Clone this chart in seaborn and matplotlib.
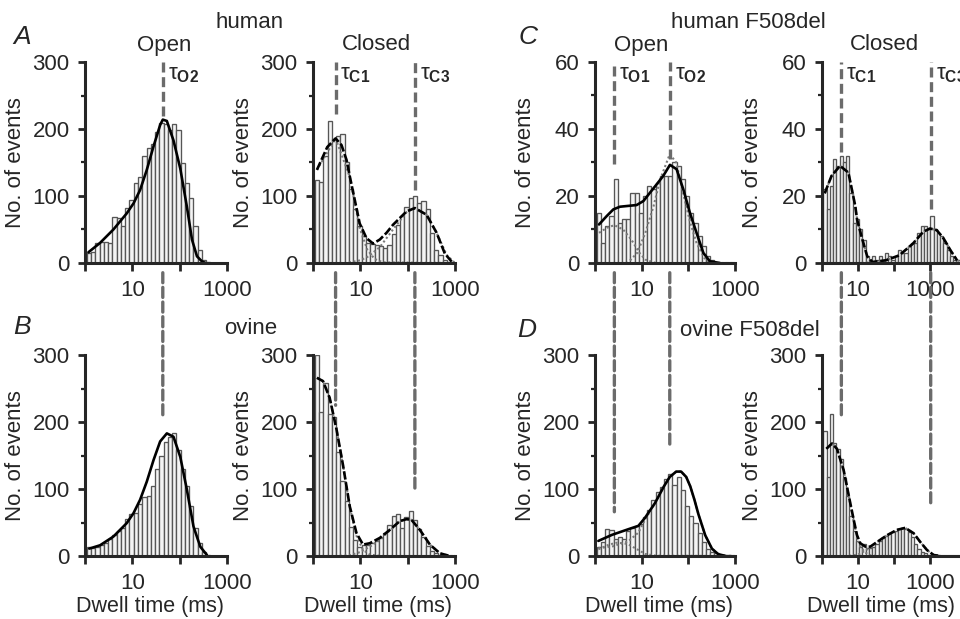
import numpy as np
import matplotlib
matplotlib.use("Agg")
import matplotlib.pyplot as plt
from matplotlib.patches import ConnectionPatch
from matplotlib.ticker import NullLocator, FixedLocator
import seaborn as sns

# histogram bins: log10(ms) of the first bin edge and log10 width of a bin
bin_start = 0.04
bin_step = 0.09

# ---- histogram counts (events per bin) ----
human_open_counts = [15, 17, 30, 32, 31, 30, 69, 67, 55, 82, 94, 120, 129, 159, 171, 178, 196, 209, 208,
                     198, 208, 198, 149, 119, 97, 55, 20, 5, 2]
human_closed_counts = [124, 121, 160, 212, 185, 190, 193, 150, 110, 80, 55, 40, 30, 28, 27, 26, 22, 27, 44,
                       57, 70, 83, 97, 100, 89, 93, 80, 45, 20, 12, 5, 2]
ovine_open_counts = [14, 12, 14, 16, 20, 25, 32, 38, 42, 55, 63, 64, 78, 88, 90, 105, 130, 150, 170, 178,
                     183, 158, 130, 105, 75, 42, 20, 6, 2]
ovine_closed_counts = [300, 215, 258, 212, 208, 155, 112, 82, 44, 24, 14, 17, 17, 19, 22, 27, 34, 47, 60, 62,
                       42, 58, 67, 54, 40, 28, 15, 7, 4, 2]
hf508_open_counts = [15, 6, 11, 14, 25, 12, 13, 13, 21, 21, 15, 20, 23, 22, 24, 26, 26, 26, 30, 29, 25, 20,
                     15, 12, 8, 5, 2, 1]
hf508_closed_counts = [22, 16, 23, 31, 29, 32, 30, 32, 21, 12, 13, 10, 7, 2, 1, 2, 1, 2, 1, 3, 2, 1, 2, 4, 3,
                       3, 5, 6, 6, 9, 11, 11, 10, 14, 10, 9, 8, 6, 4, 2, 1, 1, 1]
of508_open_counts = [14, 21, 41, 39, 26, 28, 25, 38, 42, 45, 48, 58, 68, 84, 95, 103, 115, 122, 106, 118, 98,
                     74, 60, 49, 34, 21, 11, 6, 4, 2, 1, 1]
of508_closed_counts = [186, 118, 212, 168, 160, 145, 116, 89, 60, 38, 22, 14, 18, 12, 12, 14, 18, 22, 27, 30,
                       33, 36, 38, 40, 42, 41, 36, 28, 18, 11, 6, 4, 2, 1, 1, 1]

# ---- fitted curves (ms, events) ----
human_open_fit_t = [1.18, 2.08, 3.98, 7.6, 10.6, 14.6, 20.2, 28, 38.7, 44, 53.6, 74, 103, 142, 182, 232, 295, 350]
human_open_fit_y = [16, 30, 50, 74, 89, 109, 139, 174, 206, 214, 212, 183, 141, 84, 35, 10, 2.5, 0]
human_closed_fit_t = [1.21, 2.0, 3.0, 4.0, 5.1, 6.0, 9.7, 13.5, 18.6, 25.8, 35.7, 49, 94.6, 142, 251, 409, 610, 850]
human_closed_fit_y = [139, 173, 186, 176, 154, 129, 59, 37, 29, 35, 45, 57, 77, 82, 72, 45, 14, 2]
ovine_open_fit_t = [1.23, 2.08, 3.98, 7.6, 10.6, 14.6, 20.2, 28, 38.7, 53.6, 74, 103, 142, 196, 272, 376]
ovine_open_fit_y = [11, 16, 29, 49, 64, 84, 111, 143, 171, 183, 178, 148, 99, 44, 14, 1.5]
ovine_closed_fit_t = [1.21, 1.63, 2.25, 3.12, 4.32, 5.98, 8.3, 11.4, 15.8, 25.8, 41.9, 68, 94.6, 120, 181, 295, 480, 780]
ovine_closed_fit_y = [266, 261, 236, 190, 135, 74, 34, 17, 19, 27, 39, 52, 55, 54, 39, 17, 4, 0]
hf508_open_fit_t = [1.22, 1.78, 2.47, 3.43, 4.77, 7.8, 10.9, 15.1, 21, 29, 40.4, 56, 78, 108, 150, 210, 290, 475]
hf508_open_fit_y = [11.5, 14, 16, 16.8, 17, 17.3, 18.5, 21, 23.5, 26, 29.3, 28, 22, 15, 9, 3, 0.5, 0]
hf508_closed_fit_t = [1.19, 1.84, 3.16, 5.4, 8.4, 9.4, 13, 18, 25, 59, 141, 336, 647, 1000, 1540, 2390, 3700, 5650]
hf508_closed_fit_y = [20.8, 26, 29, 27, 17, 13, 7.3, 2, 0.3, 0.8, 2.3, 5.8, 9.3, 10.3, 9.8, 7.3, 3.8, 0.8]
of508_open_fit_t = [1.18, 2.3, 5.2, 8.5, 11.8, 19.3, 30, 40, 55, 70, 90, 110, 135, 165, 230, 320, 440, 600]
of508_open_fit_y = [22.5, 31.5, 40, 45, 57, 79, 104, 118, 126, 126, 118, 104, 84, 62, 31, 11, 2.5, 0.5]
of508_closed_fit_t = [1.32, 1.9, 2.6, 4.0, 6.1, 7.6, 9.4, 11.6, 16, 22, 34, 64, 121, 205, 350, 536, 822, 1260, 1930]
of508_closed_fit_y = [160, 168, 160, 128, 79, 54, 31, 19, 14, 14, 21, 31, 39, 42, 34, 21, 9, 1.5, 0]

# ---- single components of the fits (dotted) ----
human_closed_c1_t = [1.21, 3.0, 6.0, 9.7, 14, 20, 30, 1000]
human_closed_c1_y = [139, 186, 128, 52, 20, 6, 1, 0]
human_closed_c2_t = [1.21, 5, 10, 15, 26, 49, 95, 142, 250, 410, 665, 1000]
human_closed_c2_y = [0, 0, 4, 10, 24, 50, 76, 82, 72, 45, 12, 0]
ovine_closed_c1_t = [1.21, 1.63, 2.25, 3.12, 4.32, 5.98, 8.3, 11.4, 16, 30, 1000]
ovine_closed_c1_y = [266, 261, 236, 190, 135, 73, 30, 9, 2, 0, 0]
ovine_closed_c2_t = [1.21, 3, 6, 10, 16, 26, 42, 68, 95, 120, 181, 295, 480, 780, 1000]
ovine_closed_c2_y = [0, 0, 1, 6, 14, 25, 38, 52, 55, 54, 39, 17, 4, 0, 0]
hf508_open_c1_t = [1.22, 1.8, 2.6, 4, 6, 9, 12, 20, 1000]
hf508_open_c1_y = [9, 10.5, 11.3, 10, 7, 3, 1, 0, 0]
hf508_open_c2_t = [1.22, 5, 8, 12, 18, 25, 40, 55, 80, 110, 150, 220, 300, 1000]
hf508_open_c2_y = [0, 0, 3, 9, 17, 25, 32.5, 30, 20, 12, 6, 1.5, 0, 0]
hf508_closed_c1_t = [1.19, 1.84, 3.16, 5.4, 8.4, 9.4, 13, 18, 25, 60, 10000]
hf508_closed_c1_y = [20.8, 26, 29, 27, 17, 13, 7.3, 2, 0.3, 0, 0]
hf508_closed_c2_t = [1.19, 10, 25, 59, 141, 336, 647, 1000, 1540, 2390, 3700, 5650, 10000]
hf508_closed_c2_y = [0, 0, 0.2, 0.7, 2.3, 5.8, 9.3, 10.3, 9.8, 7.3, 3.8, 0.8, 0]
of508_open_c1_t = [1.18, 2, 3, 5, 8, 12, 20, 1000]
of508_open_c1_y = [10, 17, 20, 18, 10, 3, 0.5, 0]
of508_open_c2_t = [1.18, 2.3, 5.2, 8.5, 11.8, 19.3, 30, 40, 55, 70, 90, 110, 135, 165, 230, 320, 440, 600, 1000]
of508_open_c2_y = [12, 14, 22, 35, 54, 79, 104, 118, 126, 126, 118, 104, 84, 62, 31, 11, 2.5, 0.5, 0]
of508_closed_c1_t = [1.32, 1.9, 2.6, 4.0, 6.1, 7.6, 9.4, 11.6, 16, 22, 40, 10000]
of508_closed_c1_y = [160, 168, 160, 128, 78, 52, 28, 14, 5, 1, 0, 0]
of508_closed_c2_t = [1.32, 5, 10, 16, 22, 34, 64, 121, 205, 350, 536, 822, 1260, 1930, 10000]
of508_closed_c2_y = [0, 0, 2, 8, 13, 21, 31, 39, 42, 34, 21, 9, 1.5, 0, 0]

# ---- time constants marked by the dashed lines (ms) ----
tau_human_open = [44]
tau_human_open_names = ["O2"]
tau_human_closed = [3.0, 142]
tau_human_closed_names = ["C1", "C3"]
tau_hf508_open = [2.6, 40]
tau_hf508_open_names = ["O1", "O2"]
tau_hf508_closed = [3.45, 1045]
tau_hf508_closed_names = ["C1", "C3"]

sns.set_style("ticks")
plt.rcParams["font.family"] = ["Liberation Sans", "DejaVu Sans"]
plt.rcParams["mathtext.fontset"] = "custom"
plt.rcParams["mathtext.rm"] = "Liberation Sans"
plt.rcParams["mathtext.it"] = "Liberation Sans:italic"
plt.rcParams["mathtext.bf"] = "Liberation Sans:bold"

W, H = 960, 619
fig = plt.figure(figsize=(W / 100, H / 100), dpi=100)
FS = 16
DASH_GREY = "#6b6b6b"


def add_axes_px(x0, x1, y0, y1):
    return fig.add_axes([x0 / W, 1 - y1 / H, (x1 - x0) / W, (y1 - y0) / H])


def draw_panel(ax, counts, fit_t, fit_y, comps, closed, ymax, xmax, wpx):
    centers = 10 ** (bin_start + bin_step * (np.arange(len(counts)) + 0.5))
    sns.histplot(x=centers, weights=counts, ax=ax, log_scale=True, binwidth=bin_step,
                 binrange=(bin_start, bin_start + bin_step * len(counts)),
                 color="#f4f4f4", edgecolor="#565656", linewidth=0.95, alpha=1)
    for ct, cy in comps:
        sns.lineplot(x=ct, y=cy, ax=ax, color="#7a7a7a", lw=1.5, linestyle=(0, (1, 1.2)),
                     estimator=None, sort=False)
    ls = (0, (3.2, 1.0)) if closed else "-"
    sns.lineplot(x=fit_t, y=fit_y, ax=ax, color="black", lw=1.9, linestyle=ls,
                 estimator=None, sort=False)

    ax.set_facecolor("none")
    ax.set_xlim(1, xmax)
    ax.set_ylim(0, ymax)
    sns.despine(ax=ax)
    for s in ["left", "bottom"]:
        ax.spines[s].set_linewidth(2.2)
    xt = [1, 10, 100, 1000] + ([10000] if xmax > 1000 else [])
    ax.xaxis.set_major_locator(FixedLocator(xt))
    ax.set_xticklabels(["10" if v == 10 else "1000" if v == 1000 else "" for v in xt])
    ax.xaxis.set_minor_locator(NullLocator())
    ax.set_yticks(np.linspace(0, ymax, 4))
    ax.yaxis.set_minor_locator(FixedLocator(np.linspace(ymax / 6, ymax * 5 / 6, 3)))
    ax.tick_params(axis="x", which="major", length=6, width=2, labelsize=FS, pad=6, direction="out")
    ax.tick_params(axis="y", which="major", length=5, width=2, labelsize=FS, pad=6, direction="out")
    ax.tick_params(axis="y", which="minor", length=3, width=1.6, direction="out")
    ax.set_ylabel("No. of events", fontsize=FS)
    ax.yaxis.set_label_coords(-59 / wpx, 0.5)
    ax.set_xlabel("")


# columns: x-range in pixels and upper x limit
cols = [(85, 227, 1000), (313, 455, 1000), (595, 735, 1000), (822, 966, 10000)]
top_rows = (62, 263)
bot_rows = (355, 556)

panels_top = [
    (human_open_counts, human_open_fit_t, human_open_fit_y, [], False, 300),
    (human_closed_counts, human_closed_fit_t, human_closed_fit_y,
     [(human_closed_c1_t, human_closed_c1_y), (human_closed_c2_t, human_closed_c2_y)], True, 300),
    (hf508_open_counts, hf508_open_fit_t, hf508_open_fit_y,
     [(hf508_open_c1_t, hf508_open_c1_y), (hf508_open_c2_t, hf508_open_c2_y)], False, 60),
    (hf508_closed_counts, hf508_closed_fit_t, hf508_closed_fit_y,
     [(hf508_closed_c1_t, hf508_closed_c1_y), (hf508_closed_c2_t, hf508_closed_c2_y)], True, 60),
]
panels_bot = [
    (ovine_open_counts, ovine_open_fit_t, ovine_open_fit_y, [], False, 300),
    (ovine_closed_counts, ovine_closed_fit_t, ovine_closed_fit_y,
     [(ovine_closed_c1_t, ovine_closed_c1_y), (ovine_closed_c2_t, ovine_closed_c2_y)], True, 300),
    (of508_open_counts, of508_open_fit_t, of508_open_fit_y,
     [(of508_open_c1_t, of508_open_c1_y), (of508_open_c2_t, of508_open_c2_y)], False, 300),
    (of508_closed_counts, of508_closed_fit_t, of508_closed_fit_y,
     [(of508_closed_c1_t, of508_closed_c1_y), (of508_closed_c2_t, of508_closed_c2_y)], True, 300),
]

axes_top, axes_bot = [], []
for (x0, x1, xmax), pt, pb in zip(cols, panels_top, panels_bot):
    at = add_axes_px(x0, x1, *top_rows)
    draw_panel(at, *pt[:5], pt[5], xmax, x1 - x0)
    ab = add_axes_px(x0, x1, *bot_rows)
    draw_panel(ab, *pb[:5], pb[5], xmax, x1 - x0)
    ab.set_xlabel("Dwell time (ms)", fontsize=15.5)
    ab.xaxis.set_label_coords(0.46 if xmax == 1000 else 0.41, -40 / 201)
    axes_top.append(at)
    axes_bot.append(ab)

# dashed tau lines: visible end in the upper panel and end in the lower panel (data units)
tau_sets = [
    (tau_human_open, tau_human_open_names, [220], [207]),
    (tau_human_closed, tau_human_closed_names, [223, 109], [225, 101]),
    (tau_hf508_open, tau_hf508_open_names, [29.5, 31], [66, 163]),
    (tau_hf508_closed, tau_hf508_closed_names, [33, 16], [207, 73]),
]
for at, ab, (taus, names, top_end, bot_end) in zip(axes_top, axes_bot, tau_sets):
    ymax = at.get_ylim()[1]
    for tau, name, te, be in zip(taus, names, top_end, bot_end):
        at.vlines(tau, te, ymax, color=DASH_GREY, lw=2.4, linestyle=(0, (3, 1.4)), zorder=3)
        con = ConnectionPatch(xyA=(tau, 0), coordsA=at.transData, xyB=(tau, be), coordsB=ab.transData,
                              color=DASH_GREY, lw=2.4, linestyle=(0, (3, 1.4)), shrinkA=7, shrinkB=0)
        fig.add_artist(con)
        at.annotate(r"$\mathrm{\tau}_{\mathbf{" + name + "}}$", xy=(tau, ymax), xytext=(3.5, -9),
                    textcoords="offset points", ha="left", va="center", fontsize=FS,
                    annotation_clip=False)


# titles and panel letters
def ftext(x, y, s, fs=FS, **kw):
    fig.text(x / W, 1 - y / H, s, ha="center", va="center", fontsize=fs, **kw)


ftext(22, 37, "A", fs=19, style="italic")
ftext(250, 22, "human")
ftext(164, 45, "Open")
ftext(376, 45, "Closed")
ftext(528, 37, "C", fs=19, style="italic")
ftext(748, 22, "human F508del")
ftext(641, 45, "Open")
ftext(884, 45, "Closed")
ftext(22, 327, "B", fs=19, style="italic")
ftext(251, 328, "ovine")
ftext(527, 330, "D", fs=19, style="italic")
ftext(750, 330, "ovine F508del")

fig.savefig("out.png", dpi=100)
